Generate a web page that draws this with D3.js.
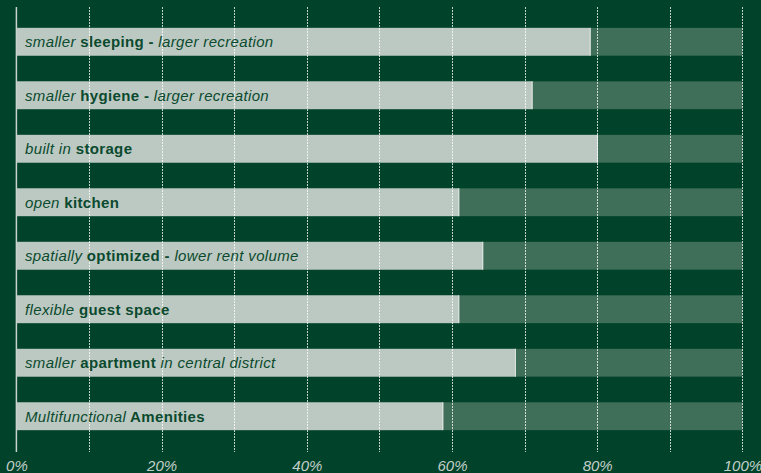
<!DOCTYPE html>
<html>
<head>
<meta charset="utf-8">
<script src="https://cdn.jsdelivr.net/npm/d3@7"></script>
<style>
  html, body { margin: 0; padding: 0; background: #00432a; }
  svg { display: block; }
</style>
</head>
<body>
<svg id="chart" width="761" height="473"></svg>
<script>
// ---- data ----
const categories = [
  "smaller sleeping - larger recreation",
  "smaller hygiene - larger recreation",
  "built in storage",
  "open kitchen",
  "spatially optimized - lower rent volume",
  "flexible guest space",
  "smaller apartment in central district",
  "Multifunctional Amenities"
];
// label segments: [text, style] where i = italic, b = bold
const labelSegments = [
  [["smaller", "i"], [" sleeping", "b"], [" - ", "b"], ["larger recreation", "i"]],
  [["smaller", "i"], [" hygiene", "b"], [" - ", "b"], ["larger recreation", "i"]],
  [["built in", "i"], [" storage", "b"]],
  [["open", "i"], [" kitchen", "b"]],
  [["spatially", "i"], [" optimized", "b"], [" - ", "b"], ["lower rent volume", "i"]],
  [["flexible", "i"], [" guest space", "b"]],
  [["smaller", "i"], [" apartment", "b"], [" in central district", "i"]],
  [["Multifunctional", "i"], [" Amenities", "b"]]
];
const values = [79.1, 71.1, 80.1, 61.0, 64.3, 61.0, 68.8, 58.8];
const totalValue = 100;
const tickValues = [0, 20, 40, 60, 80, 100];
const gridValues = [10, 20, 30, 40, 50, 60, 70, 80, 90, 100];

// ---- chart ----
const svg = d3.select("#chart");
const W = 761, H = 473;

const x = d3.scaleLinear().domain([0, 100]).range([16.4, 742.4]);
const y = d3.scaleBand().domain(categories).range([7, 451])
  .paddingInner(0.48).paddingOuter(0.39);

svg.append("rect").attr("width", W).attr("height", H).attr("fill", "#00432a");

const g = svg.append("g");

// background (100%) bars
g.selectAll("rect.bg").data(categories).join("rect")
  .attr("class", "bg")
  .attr("x", x(0))
  .attr("y", d => y(d))
  .attr("width", x(totalValue) - x(0))
  .attr("height", y.bandwidth())
  .attr("fill", "#3f6f58");

// value bars
g.selectAll("rect.val").data(values).join("rect")
  .attr("class", "val")
  .attr("x", x(0))
  .attr("y", (d, i) => y(categories[i]))
  .attr("width", d => x(d) - x(0))
  .attr("height", y.bandwidth())
  .attr("fill", "#bbc9c2");

// bar end highlight
g.selectAll("line.end").data(values).join("line")
  .attr("class", "end")
  .attr("x1", d => x(d) - 0.5).attr("x2", d => x(d) - 0.5)
  .attr("y1", (d, i) => y(categories[i]))
  .attr("y2", (d, i) => y(categories[i]) + y.bandwidth())
  .attr("stroke", "#dfe6e2").attr("stroke-width", 1);

// gridlines
svg.append("g").selectAll("line").data(gridValues).join("line")
  .attr("x1", d => Math.round(x(d)) + 0.5).attr("x2", d => Math.round(x(d)) + 0.5)
  .attr("y1", 7).attr("y2", 452)
  .attr("stroke", "#ffffff").attr("stroke-opacity", 0.75)
  .attr("stroke-width", 1)
  .attr("stroke-dasharray", "2,1");

// left axis line
svg.append("line")
  .attr("x1", x(0)).attr("x2", x(0))
  .attr("y1", 7).attr("y2", 452)
  .attr("stroke", "#c9d2cd").attr("stroke-width", 1.5);

// labels
const labels = svg.append("g").selectAll("text").data(labelSegments).join("text")
  .attr("x", 25)
  .attr("y", (d, i) => y(categories[i]) + y.bandwidth() / 2 + 5.5)
  .attr("font-family", "'Liberation Sans', Arial, Helvetica, sans-serif")
  .attr("font-size", 15)
  .attr("letter-spacing", 0.35)
  .attr("fill", "#0b4a2e")
  .attr("xml:space", "preserve")
  .style("white-space", "pre");
labels.selectAll("tspan").data(d => d).join("tspan")
  .text(d => d[0])
  .attr("font-style", d => d[1] === "i" ? "italic" : "normal")
  .attr("font-weight", d => d[1] === "b" ? "bold" : "normal");

// x axis
const xAxis = d3.axisBottom(x).tickValues(tickValues).tickFormat(d => d + "%").tickSize(0);
const ax = svg.append("g").attr("transform", "translate(0,454)").call(xAxis);
ax.select(".domain").remove();
ax.selectAll("text")
  .attr("dy", 0).attr("y", 16.5)
  .attr("font-family", "'Liberation Sans', Arial, Helvetica, sans-serif")
  .attr("font-size", 15)
  .attr("font-style", "italic")
  .attr("fill", "#c3cfc9");
</script>
</body>
</html>
